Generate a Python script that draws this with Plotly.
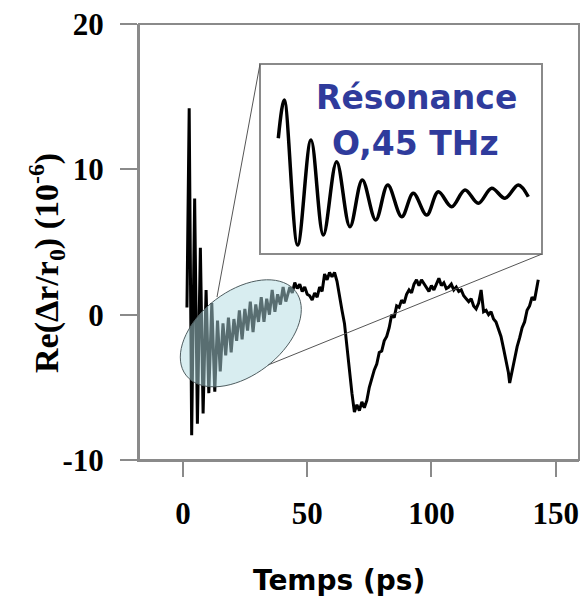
import math
import plotly.graph_objects as go

# ---------------- data ----------------
time_ps = [1.6, 2.5, 3.5, 4.7, 5.8, 7.0, 8.1, 9.3, 10.4, 11.6, 12.8, 13.9, 15.0, 16.1,
           17.2, 18.3, 19.4, 20.5, 21.6, 22.7, 23.8, 24.9, 26.0, 27.1, 28.2, 29.3, 30.4,
           31.5, 32.6, 33.7, 34.8, 35.9, 37.0, 38.1, 39.2, 40.3, 41.4, 42.5,
           43, 44, 45, 46, 47, 48, 49, 50, 51, 52, 53, 54, 55, 56, 57, 58, 59, 60,
           61, 62, 63, 64, 65, 66, 67, 68, 69, 70, 71, 72, 73, 74, 75, 76, 77, 78,
           79, 80, 81, 82, 83, 84, 85, 86, 87, 88, 89, 90, 91, 92, 93, 94, 95, 96,
           97, 98, 99, 100, 101, 102, 103, 104, 105, 106, 107, 108, 109, 110, 111,
           112, 113, 114, 115, 116, 117, 118, 119, 120, 121, 122, 123, 124, 125, 126,
           127, 128, 129, 130, 131, 131.5, 132.5, 133.5, 134.5, 135.5, 136.5, 137.5,
           138.5, 139.5, 140.5, 141.5, 142.5, 143]
signal = [0.5, 14.2, -8.3, 8.0, -7.5, 4.6, -6.8, 1.7, -5.4, 0.8, -5.3, -0.4, -3.9, -0.6,
          -2.8, -0.2, -2.6, -0.3, -1.8, 0.3, -1.7, 0.4, -1.1, 0.9, -1.2, 0.7, -0.5,
          1.2, -0.5, 1.1, 0.0, 1.7, 0.2, 1.4, 0.7, 1.9, 0.9, 1.6,
          1.9, 1.5, 2.2, 1.8, 2.1, 1.6, 1.9, 1.4, 1.3, 1.0, 1.5, 1.2, 1.9, 1.6, 2.8, 2.4, 2.9, 2.6,
          2.9, 2.3, 1.2, 0.3, -0.6, -2.3, -4.0, -5.4, -6.7, -6.2, -6.6, -6.0, -6.4, -5.9, -5.0, -4.3, -3.8, -3.4,
          -2.6, -2.5, -1.8, -1.5, -0.9, 0.0, -0.2, 0.6, 0.5, 1.0, 0.8, 1.4, 1.7, 1.5, 2.1, 2.4, 2.0, 2.4,
          2.1, 1.8, 1.6, 2.0, 1.7, 2.1, 2.5, 2.0, 2.2, 1.8, 1.9, 2.1, 1.7, 1.9, 1.6,
          1.7, 1.3, 1.1, 0.9, 1.1, 0.6, 0.4, 0.8, 1.7, 0.2, 0.3, 0.0, 0.2, -0.3, -0.5,
          -1.0, -1.5, -2.3, -3.1, -4.0, -4.7, -3.8, -3.0, -2.2, -1.6, -0.9, -0.5,
          0.3, 0.6, 1.2, 1.0, 2.0, 2.4]

inset_time_ps = [4.0, 4.51, 5.66, 6.80, 7.86, 9.00, 10.14, 11.20, 12.35, 13.38, 14.58,
                 15.57, 16.72, 17.71, 18.86, 20.00, 21.14, 22.29, 23.43, 24.57, 25.43]
inset_signal = [3.27, 4.8, -1.0, 3.2, -0.6, 2.33, -0.27, 1.6, 0.0, 1.4, 0.13,
                1.07, 0.2, 1.13, 0.53, 1.2, 0.67, 1.27, 0.87, 1.4, 0.93]

x_ticks = [0, 50, 100, 150]
y_ticks = [-10, 0, 10, 20]
y_tick_text = ["-10", "0", "10", "20"]

# ---------------- layout helpers (page pixel coords; body margin removed below) ----------------
W, H = 583, 598
ML, MR, MT, MB = 139, 4, 24, 138
X_RANGE = [-17.7, 159.4]
Y_RANGE = [-10, 20]
PW, PH = W - ML - MR, H - MT - MB


def px_x(px):
    return X_RANGE[0] + (px - ML) / PW * (X_RANGE[1] - X_RANGE[0])


def px_y(py):
    return Y_RANGE[1] - (py - MT) / PH * (Y_RANGE[1] - Y_RANGE[0])


def paper_x(px):
    return (px - ML) / PW


def paper_y(py):
    return (H - MB - py) / PH


fig = go.Figure()

fig.add_trace(go.Scatter(x=time_ps, y=signal, mode="lines",
                         line=dict(color="black", width=3), showlegend=False,
                         hoverinfo="skip"))

fig.add_trace(go.Scatter(x=inset_time_ps, y=inset_signal, mode="lines",
                         line=dict(color="black", width=3.5, shape="spline", smoothing=1),
                         xaxis="x2", yaxis="y2", showlegend=False, hoverinfo="skip"))

# ellipse (rotated) in data coordinates
cx, cy, a, b, th = 240.8, 333.3, 69.0, 42.0, math.radians(37.3)
pts = []
for k in range(73):
    ph = 2 * math.pi * k / 72
    ex = cx + a * math.cos(ph) * math.cos(th) - b * math.sin(ph) * math.sin(th)
    ey = cy - (a * math.cos(ph) * math.sin(th) + b * math.sin(ph) * math.cos(th))
    pts.append((px_x(ex), px_y(ey)))
path = "M " + " L ".join(f"{x:.4f},{y:.4f}" for x, y in pts) + " Z"

FRAME = "#8a8a8a"
shapes = [
    # plot frame
    dict(type="rect", xref="paper", yref="paper", x0=0, x1=1, y0=0, y1=1,
         line=dict(color=FRAME, width=2), fillcolor="rgba(0,0,0,0)", layer="above"),
    # inset box
    dict(type="rect", xref="paper", yref="paper", x0=paper_x(260), x1=paper_x(542),
         y0=paper_y(254), y1=paper_y(64), line=dict(color=FRAME, width=2),
         fillcolor="white", layer="below"),
    dict(type="line", xref="x", yref="y", x0=px_x(260), y0=px_y(64), x1=px_x(217), y1=px_y(297),
         line=dict(color="#555555", width=1)),
    dict(type="line", xref="x", yref="y", x0=px_x(542), y0=px_y(254), x1=px_x(268), y1=px_y(365),
         line=dict(color="#555555", width=1)),
    dict(type="path", xref="x", yref="y", path=path, fillcolor="rgba(178,219,226,0.5)",
         line=dict(color="#4f5d60", width=1), layer="above"),
]

serif_b = dict(family="Liberation Serif", size=31, color="black", weight="bold")
axis_common = dict(showline=True, mirror=False, linecolor=FRAME, linewidth=2,
                   ticks="outside", tickwidth=2, tickcolor=FRAME, showgrid=False,
                   zeroline=False, tickfont=serif_b, ticklabeloverflow="allow")

annotations = [
    dict(text="Re(Δr/r<sub>0</sub>) (10<sup>-6</sup>)", xref="paper", yref="paper",
         x=paper_x(46), y=paper_y(263), textangle=-90, showarrow=False,
         xanchor="center", yanchor="middle",
         font=dict(family="Liberation Serif", size=34, color="black", weight="bold")),
    dict(text="Temps (ps)", xref="paper", yref="paper", x=paper_x(338.5), y=paper_y(580),
         showarrow=False, xanchor="center", yanchor="middle",
         font=dict(family="DejaVu Sans", size=28, color="black", weight="bold")),
    dict(text="Résonance", xref="paper", yref="paper", x=paper_x(416), y=paper_y(97),
         showarrow=False, xanchor="center", yanchor="middle",
         font=dict(family="DejaVu Sans", size=33, color="#2f3b9c", weight="bold")),
    dict(text="O,45 THz", xref="paper", yref="paper", x=paper_x(415), y=paper_y(143),
         showarrow=False, xanchor="center", yanchor="middle",
         font=dict(family="DejaVu Sans", size=33, color="#2f3b9c", weight="bold")),
]

fig.update_layout(
    width=W, height=H, margin=dict(l=ML, r=MR, t=MT, b=MB),
    paper_bgcolor="white", plot_bgcolor="rgba(0,0,0,0)",
    xaxis=dict(range=X_RANGE, tickvals=x_ticks, ticklen=15, ticklabelstandoff=10, **axis_common),
    yaxis=dict(range=Y_RANGE, tickvals=y_ticks, ticktext=y_tick_text, ticklen=17,
               ticklabelstandoff=10, **axis_common),
    xaxis2=dict(domain=[paper_x(262), paper_x(540)], range=[2.603, 26.43], visible=False,
                anchor="y2"),
    yaxis2=dict(domain=[paper_y(252), paper_y(66)], range=[-1.28, 6.16], visible=False,
                anchor="x2"),
    shapes=shapes, annotations=annotations, showlegend=False,
)

fig.write_html("out.html",
               config={"displayModeBar": False},
               post_script="document.body.style.margin='0px';"
                           "document.body.style.overflow='hidden';")
